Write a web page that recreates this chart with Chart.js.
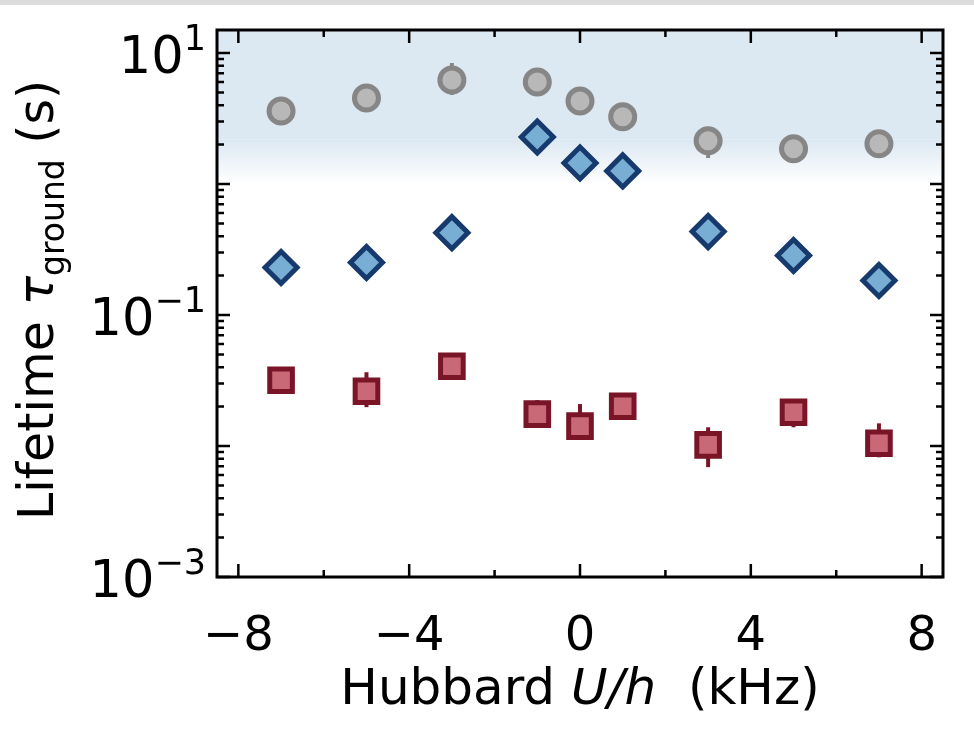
<!DOCTYPE html>
<html>
<head>
<meta charset="utf-8">
<script src="https://cdn.jsdelivr.net/npm/chart.js@4.4.1/dist/chart.umd.min.js"></script>
<style>
  html, body { margin: 0; background: #fff; }
  canvas { display: block; }
</style>
</head>
<body>
<canvas id="chart" width="974" height="736"></canvas>
<script>
/* Ground-state lifetime vs Hubbard U, three data sets on a log axis */
const FONT = '"DejaVu Sans", sans-serif';

const U_KHZ = [-7, -5, -3, -1, 0, 1, 3, 5, 7];

const TAU_GRAY    = [3.61, 4.54, 6.23, 6.01, 4.31, 3.26, 2.14, 1.86, 2.03];
const TAU_GRAY_LO = [3.40, 4.30, 4.79, 5.70, 4.10, 3.10, 1.58, 1.76, 1.92];
const TAU_GRAY_HI = [3.85, 4.80, 8.40, 6.40, 4.55, 3.45, 2.69, 1.97, 2.15];

const TAU_BLUE    = [0.2305, 0.252, 0.4256, 2.29, 1.45, 1.26, 0.4335, 0.2844, 0.1836];
const TAU_BLUE_LO = [0.220, 0.240, 0.400, 2.15, 1.37, 1.19, 0.410, 0.270, 0.174];
const TAU_BLUE_HI = [0.243, 0.265, 0.450, 2.44, 1.53, 1.33, 0.460, 0.300, 0.194];

const TAU_RED    = [0.0318, 0.0262, 0.0406, 0.0175, 0.0142, 0.0201, 0.0102, 0.0181, 0.0105];
const TAU_RED_LO = [0.0300, 0.0198, 0.0385, 0.0146, 0.0113, 0.0190, 0.0069, 0.0139, 0.0082];
const TAU_RED_HI = [0.0335, 0.0366, 0.0428, 0.0224, 0.0209, 0.0212, 0.0139, 0.0210, 0.0149];

const X_MAJOR = [-8, -4, 0, 4, 8];
const X_MINOR = [-6, -2, 2, 6];
const Y_LABELED = [1e-3, 1e-1, 1e1];
const Y_EXPONENT = ['\u22123', '\u22121', '1'];
const X_RANGE = [-8.5, 8.5];
const Y_RANGE = [1e-3, 15];
const BAND = [15, 2.2, 1];   // shaded region: top, end of solid part, end of fade

const minus = v => v < 0 ? '\u2212' + Math.abs(v) : String(v);

function series(label, ys, lo, hi, style, fill, edge, r) {
  return {
    label, lo, hi,
    data: U_KHZ.map((u, i) => ({ x: u, y: ys[i] })),
    pointStyle: style, pointRadius: r, pointHoverRadius: r,
    backgroundColor: fill, borderColor: edge, borderWidth: 5,
    showLine: false
  };
}

function yTicks() {
  const major = [], minor = [];
  for (let d = -3; d <= 1; d++) {
    major.push(Math.pow(10, d));
    for (let k = 2; k <= 9; k++) {
      const v = k * Math.pow(10, d);
      if (v <= Y_RANGE[1]) minor.push(v);
    }
  }
  return { major, minor };
}

const decor = {
  id: 'decor',
  beforeDraw(chart) {
    const { ctx } = chart;
    ctx.save();
    ctx.fillStyle = '#dddddd';
    ctx.fillRect(0, 0, chart.width, 5);
    ctx.restore();
  },
  beforeDatasetsDraw(chart) {
    const { ctx, chartArea: a, scales: { x, y } } = chart;
    ctx.save();
    // shaded band
    const t = Math.max(y.getPixelForValue(BAND[0]), a.top), m = y.getPixelForValue(BAND[1]), b = y.getPixelForValue(BAND[2]);
    ctx.fillStyle = '#dce8f2';
    ctx.fillRect(a.left, t, a.right - a.left, m - t);
    const g = ctx.createLinearGradient(0, m, 0, b);
    g.addColorStop(0, '#dce8f2');
    g.addColorStop(1, 'rgba(220,232,242,0)');
    ctx.fillStyle = g;
    ctx.fillRect(a.left, m, a.right - a.left, b - m);
    // error bars
    ctx.lineWidth = 4;
    chart.data.datasets.forEach(d => {
      ctx.strokeStyle = d.borderColor;
      d.data.forEach((p, j) => {
        const px = x.getPixelForValue(p.x);
        ctx.beginPath();
        ctx.moveTo(px, y.getPixelForValue(d.lo[j]));
        ctx.lineTo(px, y.getPixelForValue(d.hi[j]));
        ctx.stroke();
      });
    });
    ctx.restore();
  },
  afterDraw(chart) {
    const { ctx, chartArea: a, scales: { x, y } } = chart;
    ctx.save();
    ctx.strokeStyle = '#000';
    ctx.lineWidth = 3;
    ctx.strokeRect(a.left, a.top, a.right - a.left, a.bottom - a.top);
    ctx.lineWidth = 2.5;
    const tickX = (v, len) => {
      const px = x.getPixelForValue(v);
      ctx.beginPath();
      ctx.moveTo(px, a.bottom); ctx.lineTo(px, a.bottom - len);
      ctx.moveTo(px, a.top); ctx.lineTo(px, a.top + len);
      ctx.stroke();
    };
    const tickY = (v, len) => {
      const py = y.getPixelForValue(v);
      ctx.beginPath();
      ctx.moveTo(a.left, py); ctx.lineTo(a.left + len, py);
      ctx.moveTo(a.right, py); ctx.lineTo(a.right - len, py);
      ctx.stroke();
    };
    X_MAJOR.forEach(v => tickX(v, 13));
    X_MINOR.forEach(v => tickX(v, 7));
    const yt = yTicks();
    yt.major.forEach(v => tickY(v, 13));
    yt.minor.forEach(v => tickY(v, 7));

    // y tick labels with superscript exponents
    ctx.fillStyle = '#000';
    ctx.textBaseline = 'alphabetic';
    ctx.textAlign = 'left';
    Y_LABELED.forEach((v, i) => {
      const py = y.getPixelForValue(v);
      ctx.font = '35px ' + FONT;
      const we = ctx.measureText(Y_EXPONENT[i]).width;
      ctx.font = '51px ' + FONT;
      const wb = ctx.measureText('10').width;
      const right = a.left - 11;
      ctx.fillText('10', right - we - wb, py + 20);
      ctx.font = '35px ' + FONT;
      ctx.fillText(Y_EXPONENT[i], right - we, py - 3);
    });

    // x axis title
    const parts = [['Hubbard ', 'normal'], ['U/h', 'italic'], ['  (kHz)', 'normal']];
    let total = 0;
    parts.forEach(p => { ctx.font = p[1] + ' 50px ' + FONT; p.w = ctx.measureText(p[0]).width; total += p.w; });
    let cx = (a.left + a.right) / 2 - total / 2;
    parts.forEach(p => { ctx.font = p[1] + ' 50px ' + FONT; ctx.fillText(p[0], cx, 704); cx += p.w; });

    // y axis title, rotated
    ctx.translate(53, 300);
    ctx.rotate(-Math.PI / 2);
    const yp = [['Lifetime ', 'normal 49px', 0], ['\u03c4', 'italic 49px', 0], ['ground', 'normal 33px', 11], [' (s)', 'normal 49px', 0]];
    total = 0;
    yp.forEach(p => { ctx.font = p[1] + ' ' + FONT; p.w = ctx.measureText(p[0]).width; total += p.w; });
    cx = -total / 2;
    yp.forEach(p => { ctx.font = p[1] + ' ' + FONT; ctx.fillText(p[0], cx, p[2]); cx += p.w; });
    ctx.restore();
  }
};

new Chart(document.getElementById('chart'), {
  type: 'scatter',
  data: {
    datasets: [
      series('gray', TAU_GRAY, TAU_GRAY_LO, TAU_GRAY_HI, 'circle', '#b8b8b8', '#868686', 12),
      series('blue', TAU_BLUE, TAU_BLUE_LO, TAU_BLUE_HI, 'rectRot', '#79aed4', '#163a6d', 16),
      series('red', TAU_RED, TAU_RED_LO, TAU_RED_HI, 'rect', '#c96877', '#7a1528', 16)
    ]
  },
  options: {
    responsive: false,
    animation: false,
    layout: { padding: { top: 30, right: 31, left: 0, bottom: 0 } },
    plugins: { legend: { display: false }, tooltip: { enabled: false } },
    scales: {
      x: {
        type: 'linear', min: X_RANGE[0], max: X_RANGE[1],
        grid: { display: false, drawTicks: false }, border: { display: false },
        ticks: { stepSize: 4, includeBounds: false, autoSkip: false, maxRotation: 0, padding: 32,
                 color: '#000', font: { family: FONT, size: 48 }, callback: v => minus(v) },
        afterFit: s => { s.height = 159; }
      },
      y: {
        type: 'logarithmic', min: Y_RANGE[0], max: Y_RANGE[1],
        grid: { display: false, drawTicks: false }, border: { display: false },
        ticks: { display: false },
        afterFit: s => { s.width = 217; }
      }
    }
  },
  plugins: [decor]
});
</script>
</body>
</html>
